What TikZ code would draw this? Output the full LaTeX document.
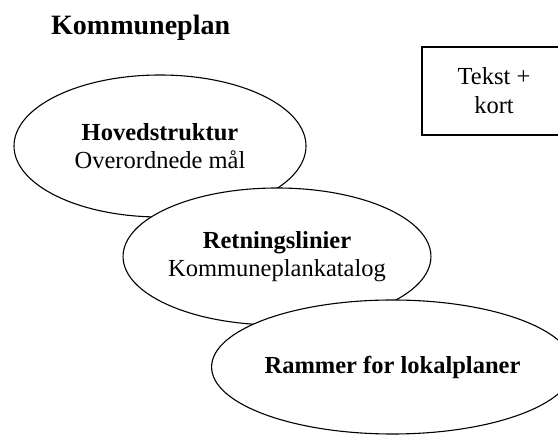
\documentclass[tikz,border=0pt]{standalone}
\usepackage{fontspec}
\setmainfont{Liberation Serif}
\usepackage{tikz}
\usetikzlibrary{shapes.geometric, positioning}

\begin{document}
\begin{tikzpicture}[x=1pt, y=-1pt]
\tikzstyle{plan} = [ellipse, draw, line width=1.1pt, fill=white, minimum width=292pt, align=center, inner sep=0pt, font=\fontsize{24.5}{28}\selectfont]
\tikzstyle{note} = [rectangle, draw, line width=1.1pt, minimum width=144pt, minimum height=88pt, align=center, font=\fontsize{24.5}{29}\selectfont]

\clip (0,0) rectangle (558,435);

\node (title) [anchor=base west, inner sep=0pt, font=\fontsize{28}{32}\selectfont\bfseries] at (51,35) {Kommuneplan};
\node (tekst) [note] at (494,91) {Tekst +\\kort};

\node (hoved) [plan, minimum height=142pt] at (160,146) {\textbf{Hovedstruktur}\\Overordnede mål};
\node (retning) [plan, minimum height=137pt] at (277,256.5) {\textbf{Retningslinier}\\Kommuneplankatalog};
\node (rammer) [plan, minimum height=134pt, minimum width=293pt] at (392.5,367) {\textbf{Rammer for lokalplaner}};

\end{tikzpicture}
\end{document}
